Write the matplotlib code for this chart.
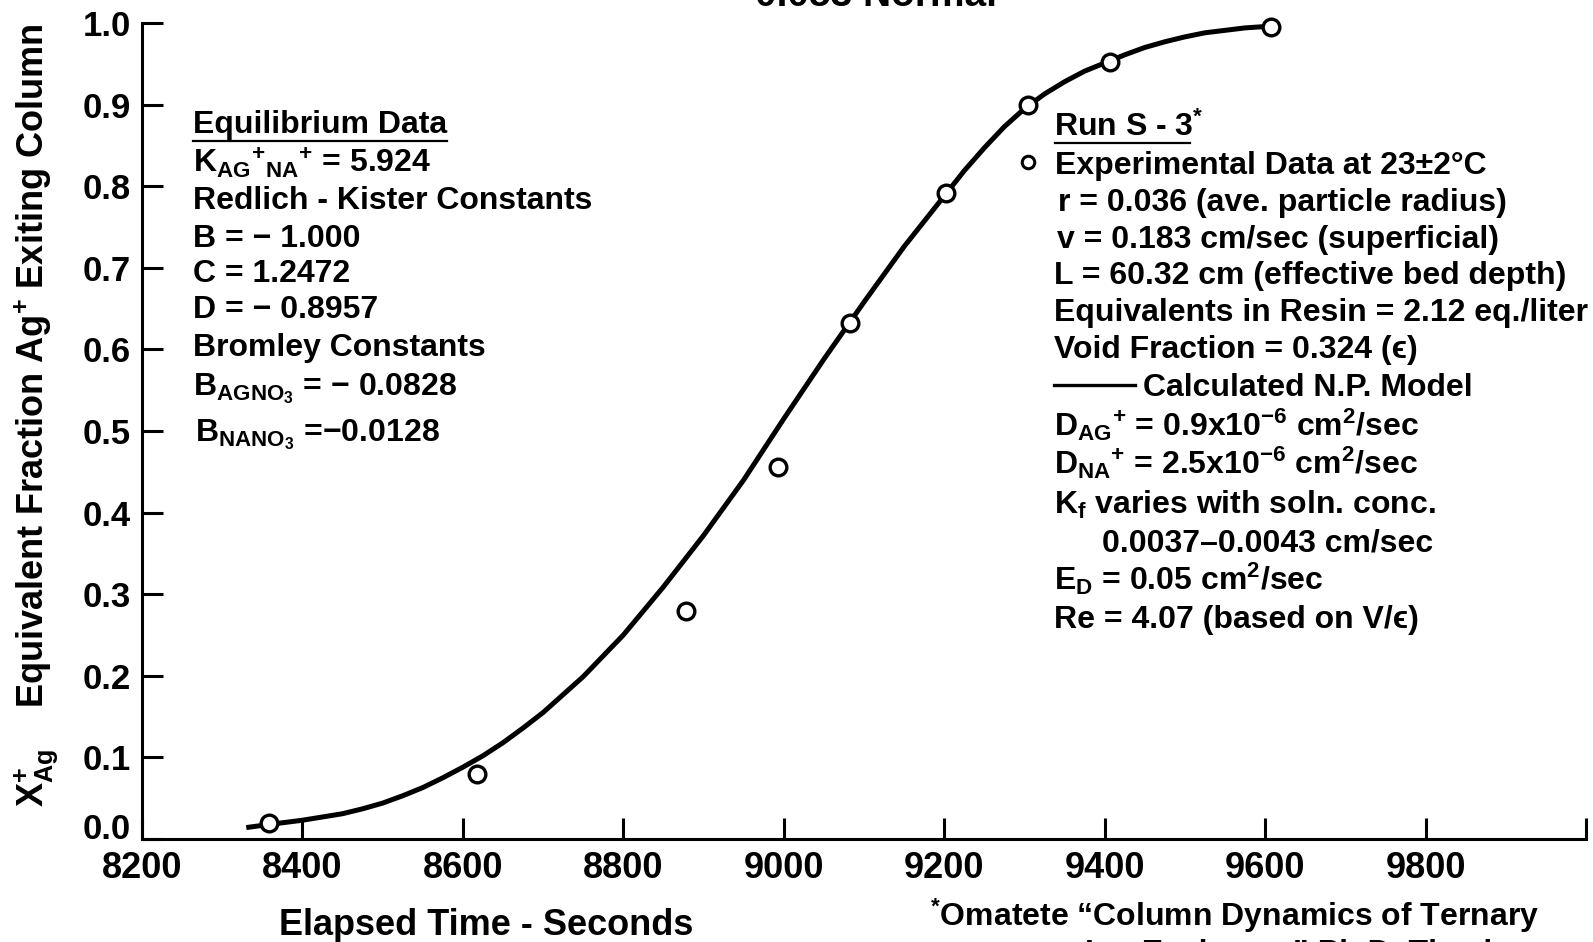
import numpy as np
import matplotlib
matplotlib.use("Agg")
import matplotlib.pyplot as plt
from matplotlib.lines import Line2D

plt.rcParams["font.family"] = ["Liberation Sans", "DejaVu Sans"]
plt.rcParams["font.weight"] = "bold"
plt.rcParams["mathtext.fontset"] = "custom"
plt.rcParams["mathtext.default"] = "regular"

# Breakthrough data, run S-3: experimental points
exp_time = [8358, 8617, 8878, 8993, 9083, 9202, 9305, 9407, 9607]
exp_frac = [0.020, 0.080, 0.280, 0.456, 0.632, 0.792, 0.900, 0.952, 0.995]

# Calculated N.P. model curve
model_time = [8330, 8360, 8400, 8425, 8450, 8475, 8500, 8525, 8550, 8575,
              8600, 8625, 8650, 8675, 8700, 8750, 8800, 8850, 8900, 8950,
              9000, 9050, 9100, 9150, 9200, 9225, 9250, 9275, 9300, 9325,
              9350, 9375, 9400, 9425, 9450, 9475, 9500, 9525, 9550, 9575, 9605]
model_frac = [0.014, 0.018, 0.023, 0.027, 0.031, 0.037, 0.044, 0.053, 0.063, 0.075,
              0.088, 0.102, 0.118, 0.136, 0.155, 0.199, 0.250, 0.309, 0.372, 0.440,
              0.515, 0.588, 0.658, 0.726, 0.788, 0.819, 0.847, 0.873, 0.895, 0.913,
              0.928, 0.941, 0.951, 0.961, 0.970, 0.977, 0.983, 0.988, 0.991, 0.994, 0.996]

x_ticks = [8200, 8400, 8600, 8800, 9000, 9200, 9400, 9600, 9800, 10000]
x_tick_labels = ["8200", "8400", "8600", "8800", "9000", "9200", "9400", "9600", "9800", ""]
y_ticks = [0.0, 0.1, 0.2, 0.3, 0.4, 0.5, 0.6, 0.7, 0.8, 0.9, 1.0]

W, H = 1593, 942


def fxy(x, y):
    """Pixel position (from top-left) to figure fraction."""
    return x / W, 1 - y / H


fig = plt.figure(figsize=(W / 100, H / 100), dpi=100)
fig.patch.set_facecolor("white")
ax = fig.add_axes([142 / W, 1 - 839 / H, (1586 - 142) / W, (839 - 23) / H])

ax.plot(model_time, model_frac, color="black", lw=3.6, solid_capstyle="butt",
        solid_joinstyle="round", zorder=2, clip_on=False)
ax.plot(exp_time, exp_frac, linestyle="none", marker="o", ms=12, mfc="white",
        mec="black", mew=2.4, zorder=3, clip_on=False)

ax.set_xlim(8200, 10000)
ax.set_ylim(0.0, 1.0)
ax.set_xticks(x_ticks)
ax.set_xticklabels(x_tick_labels)
ax.set_yticks(y_ticks)
ax.set_yticklabels([f"{v:.1f}" for v in y_ticks])
for side in ("top", "right"):
    ax.spines[side].set_visible(False)
for side in ("left", "bottom"):
    ax.spines[side].set_linewidth(2.2)
ax.tick_params(axis="both", direction="in", length=15, width=2.2, color="black")
ax.tick_params(axis="x", labelsize=26, pad=9)
ax.tick_params(axis="y", labelsize=25, pad=8)
for lab in ax.get_xticklabels() + ax.get_yticklabels():
    lab.set_fontweight("bold")
# the bottom value label sits on the axis line rather than centred on it
ax.yaxis.get_major_ticks()[0].label1.set_verticalalignment("baseline")

# Axis titles
fig.text(*fxy(486, 935), "Elapsed Time - Seconds", ha="center", va="baseline",
         fontsize=26, fontweight="bold")
fig.text(*fxy(36, 415), r"$X_{Ag}^{+}$    Equivalent Fraction Ag$^{+}$ Exiting Column",
         rotation=90, ha="center", va="center", fontsize=26, fontweight="bold")
fig.text(*fxy(876, 6), "0.053 Normal", ha="center", va="baseline",
         fontsize=28, fontweight="bold")

fs = 23


def note(x, y, s, **kw):
    fig.text(*fxy(x, y), s, ha="left", va="baseline", fontsize=fs,
             fontweight="bold", **kw)


# Equilibrium data block
left_lines = [
    (193, 133, "Equilibrium Data"),
    (193, 173, r"K$_{AG}$$^{+}$$_{NA}$$^{+}$ = 5.924"),
    (193, 209, "Redlich - Kister Constants"),
    (193, 247, "B = \u2212 1.000"),
    (193, 282, "C = 1.2472"),
    (193, 318, "D = \u2212 0.8957"),
    (193, 356, "Bromley Constants"),
    (193, 395, r"B$_{AGNO_3}$ = $-$ 0.0828"),
    (195, 441, r"B$_{NANO_3}$ =$-$0.0128"),
]
for x, y, s in left_lines:
    note(x, y, s)
fig.add_artist(Line2D([193 / W, 447 / W], [1 - 141 / H, 1 - 141 / H],
                      color="black", lw=1.6))

# Run description block
right_lines = [
    (1054, 136, r"Run S - 3$^{*}$"),
    (1055, 174, "Experimental Data at 23\u00b12\u00b0C"),
    (1058, 211, "r = 0.036 (ave. particle radius)"),
    (1057, 248, "v = 0.183 cm/sec (superficial)"),
    (1054, 284, "L = 60.32 cm (effective bed depth)"),
    (1054, 321, "Equivalents in Resin = 2.12 eq./liter"),
    (1054, 358, "Void Fraction = 0.324 (\u03f5)"),
    (1143, 396, "Calculated N.P. Model"),
    (1054, 436, r"D$_{AG}$$^{+}$ = 0.9x10$^{-6}$ cm$^{2}$/sec"),
    (1054, 474, r"D$_{NA}$$^{+}$ = 2.5x10$^{-6}$ cm$^{2}$/sec"),
    (1054, 514, r"K$_{f}$ varies with soln. conc."),
    (1102, 552, "0.0037\u20130.0043 cm/sec"),
    (1054, 590, r"E$_{D}$ = 0.05 cm$^{2}$/sec"),
    (1054, 628, "Re = 4.07 (based on V/\u03f5)"),
]
for x, y, s in right_lines:
    note(x, y, s)
fig.add_artist(Line2D([1055 / W, 1190 / W], [1 - 143 / H, 1 - 143 / H],
                      color="black", lw=1.6))
fig.add_artist(Line2D([1028 / W], [1 - 162 / H], linestyle="none", marker="o",
                      ms=9, mfc="white", mec="black", mew=2.2))
fig.add_artist(Line2D([1054 / W, 1135 / W], [1 - 385 / H, 1 - 385 / H],
                      color="black", lw=2.4))

# Reference footnote
note(930, 926, "$^{*}$Omatete \u201cColumn Dynamics of Ternary")
note(1085, 962, "Ion Exchange\u201d Ph.D. Thesis")

fig.savefig("out.png", dpi=100, facecolor="white")
